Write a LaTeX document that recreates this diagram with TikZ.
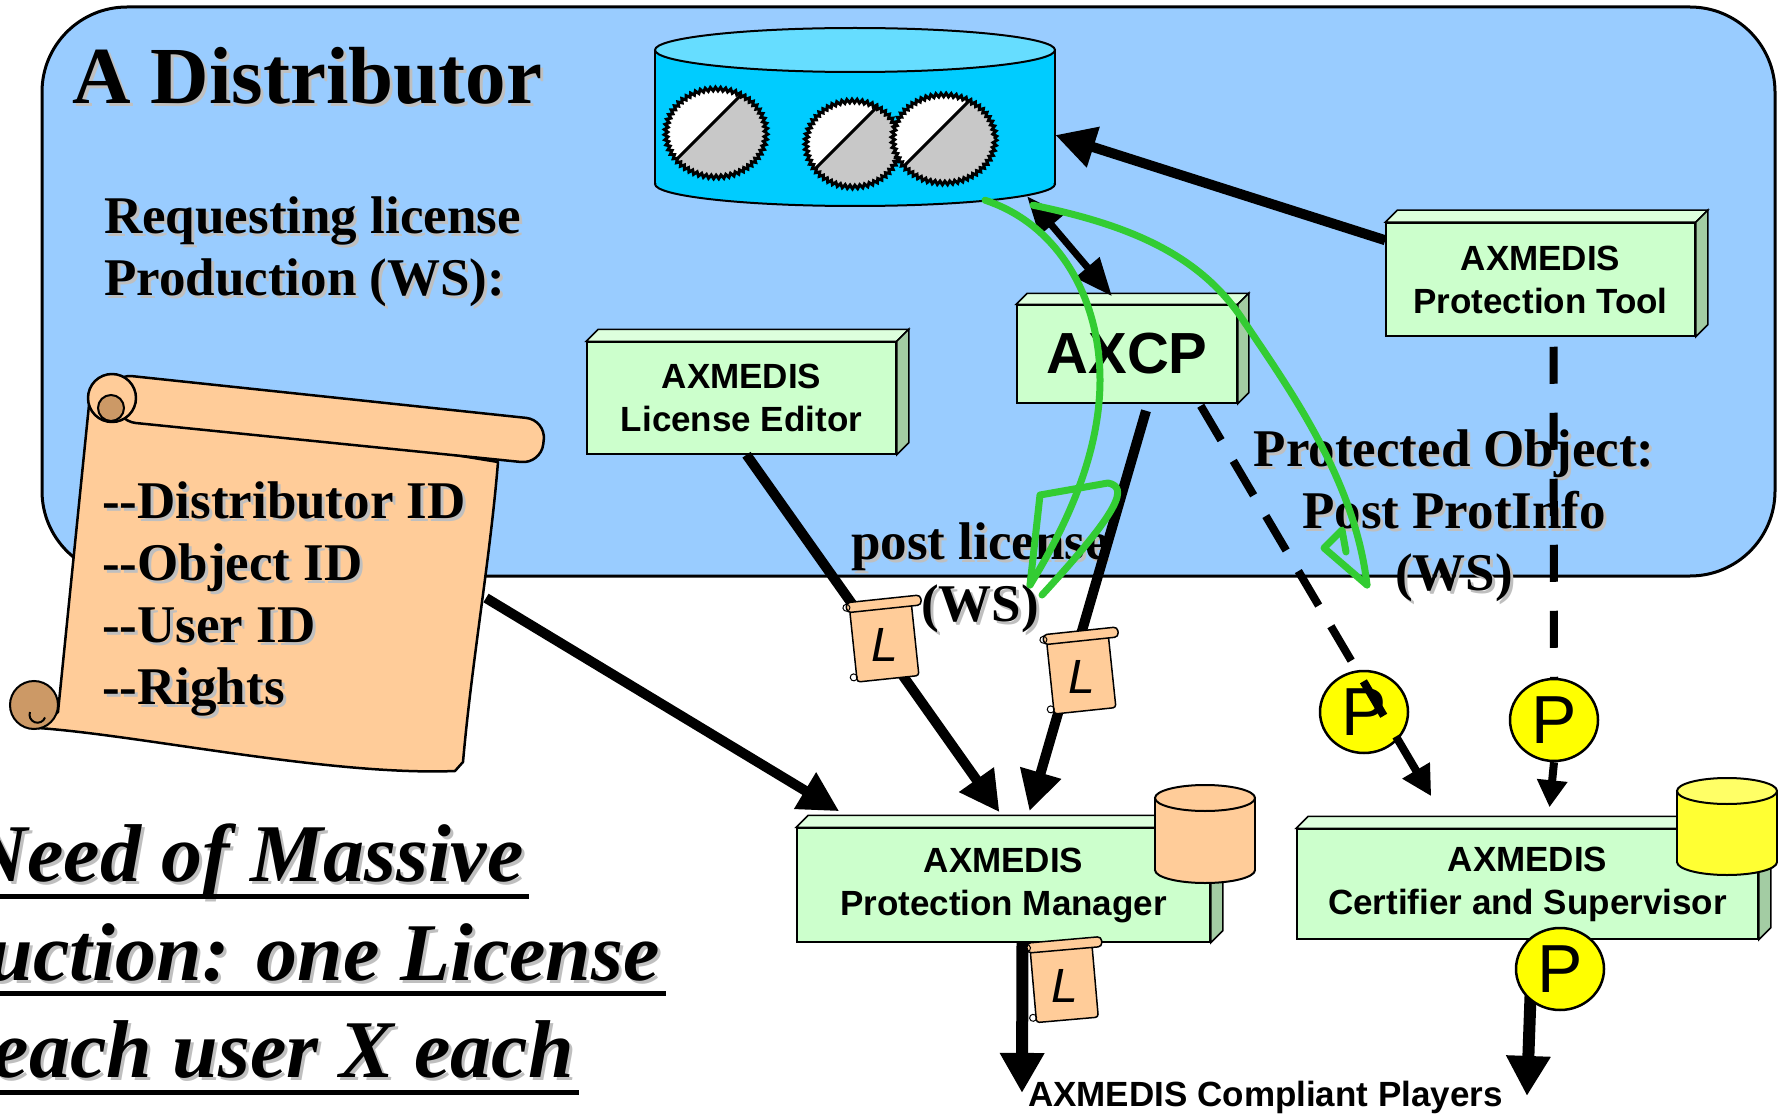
\documentclass[tikz,border=0pt]{standalone}
\usepackage{fontspec}
\setmainfont{Liberation Serif}
\setsansfont{Liberation Sans}
\usetikzlibrary{arrows.meta,shapes.geometric,decorations.pathmorphing}
\definecolor{RegionBlue}{HTML}{99CCFF}
\definecolor{StoreBody}{HTML}{00CCFF}
\definecolor{StoreLid}{HTML}{66DDFF}
\definecolor{SealGray}{HTML}{C8C8C8}
\definecolor{SlabFront}{HTML}{CCFFCC}
\definecolor{SlabTop}{HTML}{DDFFDD}
\definecolor{SlabSide}{HTML}{A3CCA3}
\definecolor{Parchment}{HTML}{FFCC99}
\definecolor{ParchmentDark}{HTML}{CC9966}
\definecolor{TokenYellow}{HTML}{FFFF00}
\definecolor{DrumYellow}{HTML}{FFFF33}
\definecolor{DrumYellowLid}{HTML}{FFFF66}
\definecolor{MarkGreen}{HTML}{33CC33}

% grey drop shadow behind a line of text
\newcommand{\withshadow}[1]{\leavevmode\rlap{\kern3pt\raisebox{-3pt}{\textcolor{black!25}{#1}}}#1}
% top and side faces of a 3d box node: name, depth
\newcommand{\slabfaces}[2]{%
  \filldraw[line width=1.5pt, fill=SlabTop] (#1.north west) -- ++(#2,-#2) -- ([shift={(#2,-#2)}]#1.north east) -- (#1.north east) -- cycle;
  \filldraw[line width=1.5pt, fill=SlabSide] (#1.north east) -- ++(#2,-#2) -- ([shift={(#2,-#2)}]#1.south east) -- (#1.south east) -- cycle;}
% drum: cx, top y, bottom y, x radius, y radius, body colour, lid colour
\newcommand{\drum}[7]{%
  \fill[#6] (#1-#4,#2) rectangle (#1+#4,#3);
  \fill[#6] (#1,#3) ellipse [x radius=#4, y radius=#5];
  \begin{scope}
    \clip (#1-#4-4,#3) rectangle (#1+#4+4,#3+#5+4);
    \draw[line width=2pt] (#1,#3) ellipse [x radius=#4, y radius=#5];
  \end{scope}
  \draw[line width=2pt] (#1-#4,#2) -- (#1-#4,#3) (#1+#4,#2) -- (#1+#4,#3);
  \filldraw[fill=#7, line width=2pt] (#1,#2) ellipse [x radius=#4, y radius=#5];}
% small licence scroll: name, x, y, tilt
\newcommand{\licflag}[4]{%
  \begin{scope}[shift={(#2,#3)}, rotate=#4]
    \filldraw[flagpaper, rounded corners=3pt] (-31,-33) rectangle (31,39);
    \filldraw[flagpaper, rounded corners=4pt] (-34,-41) rectangle (41,-31);
    \draw[line width=1pt] (-34,-36) circle [radius=3.5];
    \draw[line width=1pt] (-34,34) circle [radius=3.5];
    \node[flagmark] (#1) at (0,5) {L};
  \end{scope}}

\begin{document}
\begin{tikzpicture}[x=1pt,y=-1pt,>=Latex]
\tikzset{
  region/.style={fill=RegionBlue,draw=black,line width=3pt,rounded corners=85pt},
  labeltext/.style={font=\bfseries\fontsize{53}{62}\selectfont,inner sep=0pt},
  massive/.style={font=\bfseries\itshape\fontsize{82}{90}\selectfont,inner sep=0pt},
  underbar/.style={line width=5pt},
  slab/.style={draw,line width=1.5pt,fill=SlabFront,align=center,inner sep=0pt,font=\sffamily\bfseries\fontsize{35}{43}\selectfont},
  sealrim/.style={line width=3pt,decorate,decoration={zigzag,segment length=5pt,amplitude=1.8pt}},
  parch/.style={fill=Parchment,draw=black,line width=2.5pt,line join=round},
  parchdark/.style={fill=ParchmentDark,draw=black,line width=2pt},
  flagpaper/.style={fill=Parchment,draw=black,line width=1.5pt},
  flagmark/.style={font=\sffamily\itshape\fontsize{48}{48}\selectfont,inner sep=0pt},
  token/.style={ellipse,draw,line width=2.5pt,fill=TokenYellow,minimum width=88pt,minimum height=82pt,inner sep=0pt,font=\sffamily\fontsize{68}{68}\selectfont},
  feedline/.style={line width=10pt,-{Triangle[length=40pt,width=40pt]}},
  twoway/.style={line width=7pt,{Triangle[length=38pt,width=30pt]}-{Triangle[length=38pt,width=30pt]}},
  dashfeed/.style={line width=8pt,dash pattern=on 40pt off 24pt,-{Triangle[length=30pt,width=30pt]}},
  dashline/.style={line width=8pt,dash pattern=on 37pt off 29pt},
  stubarrow/.style={line width=8pt,-{Triangle[length=27pt,width=29pt]}},
  outlet/.style={line width=12pt,-{Triangle[length=40pt,width=42pt]}},
  greenmark/.style={MarkGreen,line width=7pt,line cap=round,line join=round}
}
\useasboundingbox (0,0) rectangle (1778,1118);
\fill[white] (0,0) rectangle (1778,1118);

% distributor area
\filldraw[region] (42,7) rectangle (1775,576);
\node[anchor=base west,inner sep=0pt,font=\bfseries\fontsize{81}{90}\selectfont] (title) at (72,104) {\withshadow{A Distributor}};
% base of a multi-line node sits on its last line
\node[labeltext,align=left,anchor=base west] (request) at (104,295) {\withshadow{Requesting license}\\\withshadow{Production (WS):}};
\node[labeltext,align=center,anchor=base] (postlic) at (980,621) {\withshadow{post license}\\\withshadow{(WS)}};
\node[labeltext,align=center,anchor=base] (postprot) at (1454,590) {\withshadow{Protected Object:}\\\withshadow{Post ProtInfo}\\\withshadow{(WS)}};

% object store with sealed objects
\drum{855}{50}{184}{200}{22}{StoreBody}{StoreLid}
\foreach \sx/\sy/\rx/\ry in {716/133/50/44, 853/144/47/43, 944/139/51/44}{
  \begin{scope}
    \clip (\sx,\sy) ellipse [x radius=\rx, y radius=\ry];
    \fill[white] (\sx,\sy) ellipse [x radius=\rx, y radius=\ry];
    \fill[SealGray] (\sx-70,\sy+57) -- (\sx+57,\sy-70) -- (\sx+70,\sy+70) -- cycle;
    \draw[line width=3pt] (\sx-70,\sy+57) -- (\sx+57,\sy-70);
  \end{scope}
  \draw[sealrim] (\sx,\sy) ellipse [x radius=\rx, y radius=\ry];
}
\node[inner sep=0pt,minimum width=400pt,minimum height=134pt] (store) at (855,117) {};

% licence scroll
\filldraw[parch] (90,395) -- (58,712) -- (38,728) .. controls (140,735) and (330,776) .. (455,771) -- (463,762) .. controls (472,660) and (490,560) .. (498,462) -- cycle;
\filldraw[parch,rounded corners=20pt] (112,374) -- (546,420) -- (541,464) -- (116,421) -- cycle;
\filldraw[parch] (112,398) circle [radius=24];
\filldraw[parchdark] (111,408) circle [radius=13];
\filldraw[parchdark] (34,705) circle [radius=24];
\draw[line width=2pt] (30,712) arc[start angle=200,end angle=20,radius=8];
\node[labeltext,align=left,anchor=base west] (terms) at (102,704) {\withshadow{-{}-Distributor ID}\\\withshadow{-{}-Object ID}\\\withshadow{-{}-User ID}\\\withshadow{-{}-Rights}};
\coordinate (scrollside) at (486,598);

% massive production note
\node[massive,anchor=base east] (need1) at (524,881) {\withshadow{Need of Massive}};
\node[massive,anchor=base east] (need2) at (660,980) {\withshadow{uction: one License}};
\node[massive,anchor=base east] (need3) at (574,1077) {\withshadow{each user X each}};
\draw[underbar] ([yshift=-15pt]need1.base west) -- ([xshift=5pt,yshift=-15pt]need1.base east);
\draw[underbar] ([yshift=-13pt]need2.base west) -- ([xshift=6pt,yshift=-13pt]need2.base east);
\draw[underbar] ([yshift=-15pt]need3.base west) -- ([xshift=5pt,yshift=-15pt]need3.base east);

% tools
\node[slab,minimum width=309pt,minimum height=112pt] (editor) at (741.5,398) {AXMEDIS\\License Editor};
\slabfaces{editor}{12}
\node[slab,minimum width=220pt,minimum height=98pt,font=\sffamily\bfseries\fontsize{58}{60}\selectfont] (axcp) at (1127,354) {AXCP};
\slabfaces{axcp}{11}
\node[slab,minimum width=309pt,minimum height=113pt] (tool) at (1540.5,279.5) {AXMEDIS\\Protection Tool};
\slabfaces{tool}{12}
\node[slab,minimum width=413pt,minimum height=114pt] (manager) at (1003.5,885) {AXMEDIS\\Protection Manager};
\slabfaces{manager}{12}
\node[slab,minimum width=461pt,minimum height=110pt] (certifier) at (1527.5,884) {AXMEDIS\\Certifier and Supervisor};
\slabfaces{certifier}{12}
\node[anchor=base west,inner sep=0pt,font=\sffamily\bfseries\fontsize{35}{40}\selectfont] (players) at (1028,1106) {AXMEDIS Compliant Players};

% flows
\draw[feedline] ([yshift=-18pt]tool.north west) -- ([yshift=-18pt]store.east);
\draw[twoway] ([xshift=172pt,yshift=-12pt]store.south) -- ([xshift=-15pt,yshift=8pt]axcp.north);
\draw[feedline] ([xshift=5pt]editor.south) -- ([xshift=-4pt,yshift=15pt]manager.north);
\draw[feedline] ([xshift=19pt,yshift=-7pt]axcp.south) -- ([xshift=26pt,yshift=16pt]manager.north);
\draw[feedline] (scrollside) -- ([xshift=43pt,yshift=16pt]manager.north west);
\draw[dashline] ([xshift=13pt,yshift=-10pt]tool.south) -- (1554,679);
\draw[outlet] ([xshift=19pt]manager.south) -- ([xshift=-6pt,yshift=4pt]players.west);
\draw[outlet] ([xshift=5pt]certifier.south) -- ([xshift=24pt,yshift=1pt]players.east);

% drums on the servers
\drum{1205}{798}{870}{50}{13}{Parchment}{Parchment}
\drum{1727}{791}{862}{50}{13}{DrumYellow}{DrumYellowLid}

% licences and protection info in transit
\licflag{flagA}{884}{640}{6}
\licflag{flagB}{1081}{672}{6}
\licflag{flagC}{1064}{981}{5}
\node[token] (protA) at (1364,712) {P};
\node[token] (protB) at (1554,720) {P};
\node[token] (protC) at (1560,969) {P};
\draw[stubarrow] (protB.south) -- ([xshift=22pt,yshift=21pt]certifier.north);
\draw[dashfeed] ([xshift=-37pt,yshift=-2pt]axcp.south east) -- ([xshift=135pt,yshift=32pt]certifier.north west);

% green marks
\coordinate (licdrop) at (1030,585);
\coordinate (protdrop) at (1367,585);
\draw[greenmark] ([xshift=130pt,yshift=-16pt]store.south) .. controls (1060,225) and (1100,300) .. (1100,380) .. controls (1100,450) and (1070,520) .. (licdrop);
\draw[greenmark] (licdrop) -- (1040,495) -- (1108,483) .. controls (1128,487) and (1122,508) .. (1042,595);
\draw[greenmark] ([xshift=178pt,yshift=-21pt]store.south) .. controls (1130,225) and (1200,255) .. (1243,320) .. controls (1290,390) and (1355,480) .. (protdrop);
\draw[greenmark] (protdrop) -- (1324,548) -- (1342,530) -- (1346,552);
\end{tikzpicture}
\end{document}
